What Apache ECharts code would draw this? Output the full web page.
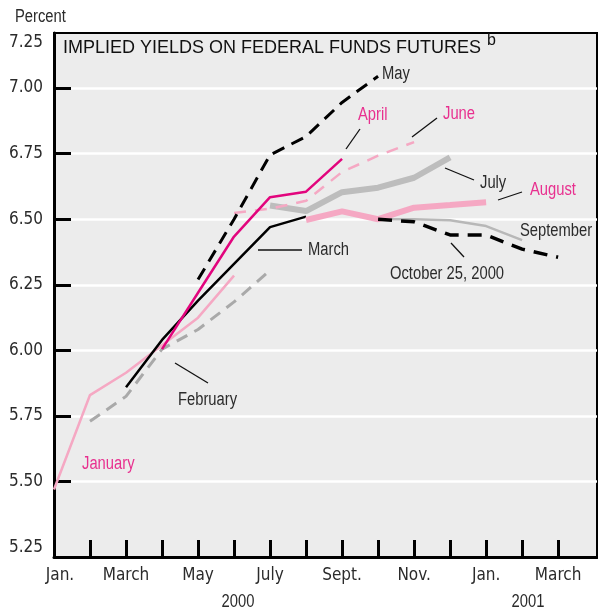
<!DOCTYPE html>
<html>
<head>
<meta charset="utf-8">
<script src="https://cdn.jsdelivr.net/npm/echarts@6/dist/echarts.min.js"></script>
<style>
  html, body { margin: 0; padding: 0; background: #fff; }
  #chart { width: 598px; height: 611px; }
</style>
</head>
<body>
<div id="chart"></div>
<script>
// month index 0 = Jan. 2000
const monthLabels = ['Jan.', '', 'March', '', 'May', '', 'July', '', 'Sept.', '', 'Nov.', '', 'Jan.', '', 'March'];
const yearLabels = ['2000', '2001'];
const yTickLabels = [5.25, 5.5, 5.75, 6.0, 6.25, 6.5, 6.75, 7.0, 7.25];

// implied yields, each curve starts at its own month
const january   = [5.47, 5.83, 5.915, 6.02, 6.125, 6.285];
const february  = [5.73, 5.825, 6.005, 6.08, 6.185, 6.305];
const march     = [5.86, 6.04, 6.19, 6.33, 6.47, 6.51];
const april     = [6.005, 6.22, 6.434, 6.584, 6.605, 6.73];
const may       = [6.27, 6.50, 6.745, 6.815, 6.945, 7.045];
const june      = [6.524, 6.54, 6.57, 6.68, 6.742, 6.794];
const july      = [6.552, 6.531, 6.603, 6.62, 6.658, 6.736];
const august    = [6.497, 6.53, 6.50, 6.544, 6.554, 6.565];
const september = [6.53, 6.50, 6.50, 6.496, 6.474, 6.42];
const oct25     = [6.50, 6.49, 6.44, 6.44, 6.386, 6.355];

const MAGENTA = '#e2057d';
const MAGENTA_TEXT = '#e8308f';
const PINK = '#f5a8c3';
const TEXT = '#2b2b2b';
const SANS = '"Liberation Sans", Arial, sans-serif';
const COND = '"DejaVu Sans Condensed", "Liberation Sans", sans-serif';
const NARROW_X = 0.82; // Arial squeezed to look like the condensed face

function pts(values, start) {
  return values.map(function (v, i) { return [start + i, v]; });
}

function line(name, values, start, color, width, dash) {
  return {
    name: name,
    type: 'line',
    data: pts(values, start),
    symbol: 'none',
    silent: true,
    lineStyle: { color: color, width: width, type: dash || 'solid', cap: 'butt' }
  };
}

function label(text, x, y, color, size, align) {
  return {
    type: 'text', x: x, y: y, z: 100, scaleX: NARROW_X,
    style: { text: text, fill: color || TEXT, font: (size || 18) + 'px ' + SANS,
      textAlign: align || 'left', textVerticalAlign: 'middle' }
  };
}

function leader(x1, y1, x2, y2) {
  return {
    type: 'line', z: 100,
    shape: { x1: x1, y1: y1, x2: x2, y2: y2 },
    style: { stroke: '#111', lineWidth: 1.3 }
  };
}

const chart = echarts.init(document.getElementById('chart'), null, { renderer: 'canvas' });

const option = {
  animation: false,
  backgroundColor: '#fff',
  grid: {
    left: 54, right: 1, top: 33, bottom: 54,
    show: true, backgroundColor: '#ececec', borderColor: '#000', borderWidth: 2
  },
  xAxis: {
    type: 'value', min: 0, max: 15.08,
    axisLine: { show: true, lineStyle: { color: '#000', width: 3 } },
    axisTick: { show: true, inside: true, length: 17, lineStyle: { color: '#000', width: 3 },
      customValues: [1, 2, 3, 4, 5, 6, 7, 8, 9, 10, 11, 12, 13, 14] },
    axisLabel: { color: TEXT, fontSize: 17, fontFamily: COND, margin: 10,
      customValues: [0, 2, 4, 6, 8, 10, 12, 14],
      formatter: function (v) {
        const i = Math.round(v);
        return i === 0 ? '{first|' + monthLabels[0] + '}' : (monthLabels[i] || '');
      },
      rich: { first: { fontSize: 17, fontFamily: COND, color: TEXT, padding: [0, 0, 0, 12] } } },
    splitLine: { show: false }
  },
  yAxis: {
    type: 'value', min: 5.213, max: 7.2095,
    axisLine: { show: true, lineStyle: { color: '#000', width: 3 } },
    axisTick: { show: true, inside: true, length: 17, lineStyle: { color: '#000', width: 3 },
      customValues: yTickLabels.slice(1, 8) },
    axisLabel: { color: TEXT, fontSize: 17, fontFamily: COND, margin: 11,
      customValues: yTickLabels.slice(0, 8),
      formatter: function (v) { return v.toFixed(2); } },
    splitLine: { show: true, lineStyle: { color: '#fff', width: 2.5 } }
  },
  series: [
    line('January', january, 0, PINK, 2.5),
    line('February', february, 1, '#a9a9a9', 3, [12, 8]),
    line('March', march, 2, '#000', 2.5),
    line('September', september, 8, '#b8b8b8', 2.5),
    line('August', august, 7, PINK, 6),
    line('July', july, 6, '#bdbdbd', 6),
    line('June', june, 5, PINK, 2.5, [12, 9]),
    line('April', april, 3, MAGENTA, 2.5),
    line('May', may, 4, '#000', 3, [13, 8]),
    line('October 25, 2000', oct25, 9, '#000', 3.5, [14, 9])
  ],
  graphic: [
    label('Percent', 15, 17, TEXT, 18),
    { type: 'text', x: 43, y: 43, style: { text: yTickLabels[8].toFixed(2), fill: TEXT,
      font: '17px ' + COND, textAlign: 'right', textVerticalAlign: 'middle' } },
    { type: 'text', x: 63, y: 48, z: 100, style: { text: 'IMPLIED YIELDS ON FEDERAL FUNDS FUTURES',
      fill: '#111', font: '18px ' + SANS, textAlign: 'left', textVerticalAlign: 'middle' } },
    { type: 'text', x: 487, y: 41, z: 100, style: { text: 'b', fill: '#111',
      font: '16px ' + SANS, textAlign: 'left', textVerticalAlign: 'middle' } },
    label(yearLabels[0], 238, 602, TEXT, 18, 'center'),
    label(yearLabels[1], 528, 602, TEXT, 18, 'center'),

    label('January', 82, 464, MAGENTA_TEXT, 18),
    label('February', 178, 400),
    leader(175, 363, 208, 383),
    label('March', 308, 250),
    leader(258, 250, 302, 250),
    label('April', 358, 115, MAGENTA_TEXT),
    leader(346, 149, 360, 129),
    label('May', 382, 74),
    label('June', 443, 114, MAGENTA_TEXT),
    leader(412, 137, 437, 118),
    label('July', 480, 183),
    leader(445, 168, 474, 180),
    label('August', 530, 190, MAGENTA_TEXT),
    leader(498, 200, 522, 192),
    label('September', 520, 231),
    label('October 25, 2000', 390, 274),
    leader(451, 243, 464, 257)
  ]
};

chart.setOption(option);
</script>
</body>
</html>
